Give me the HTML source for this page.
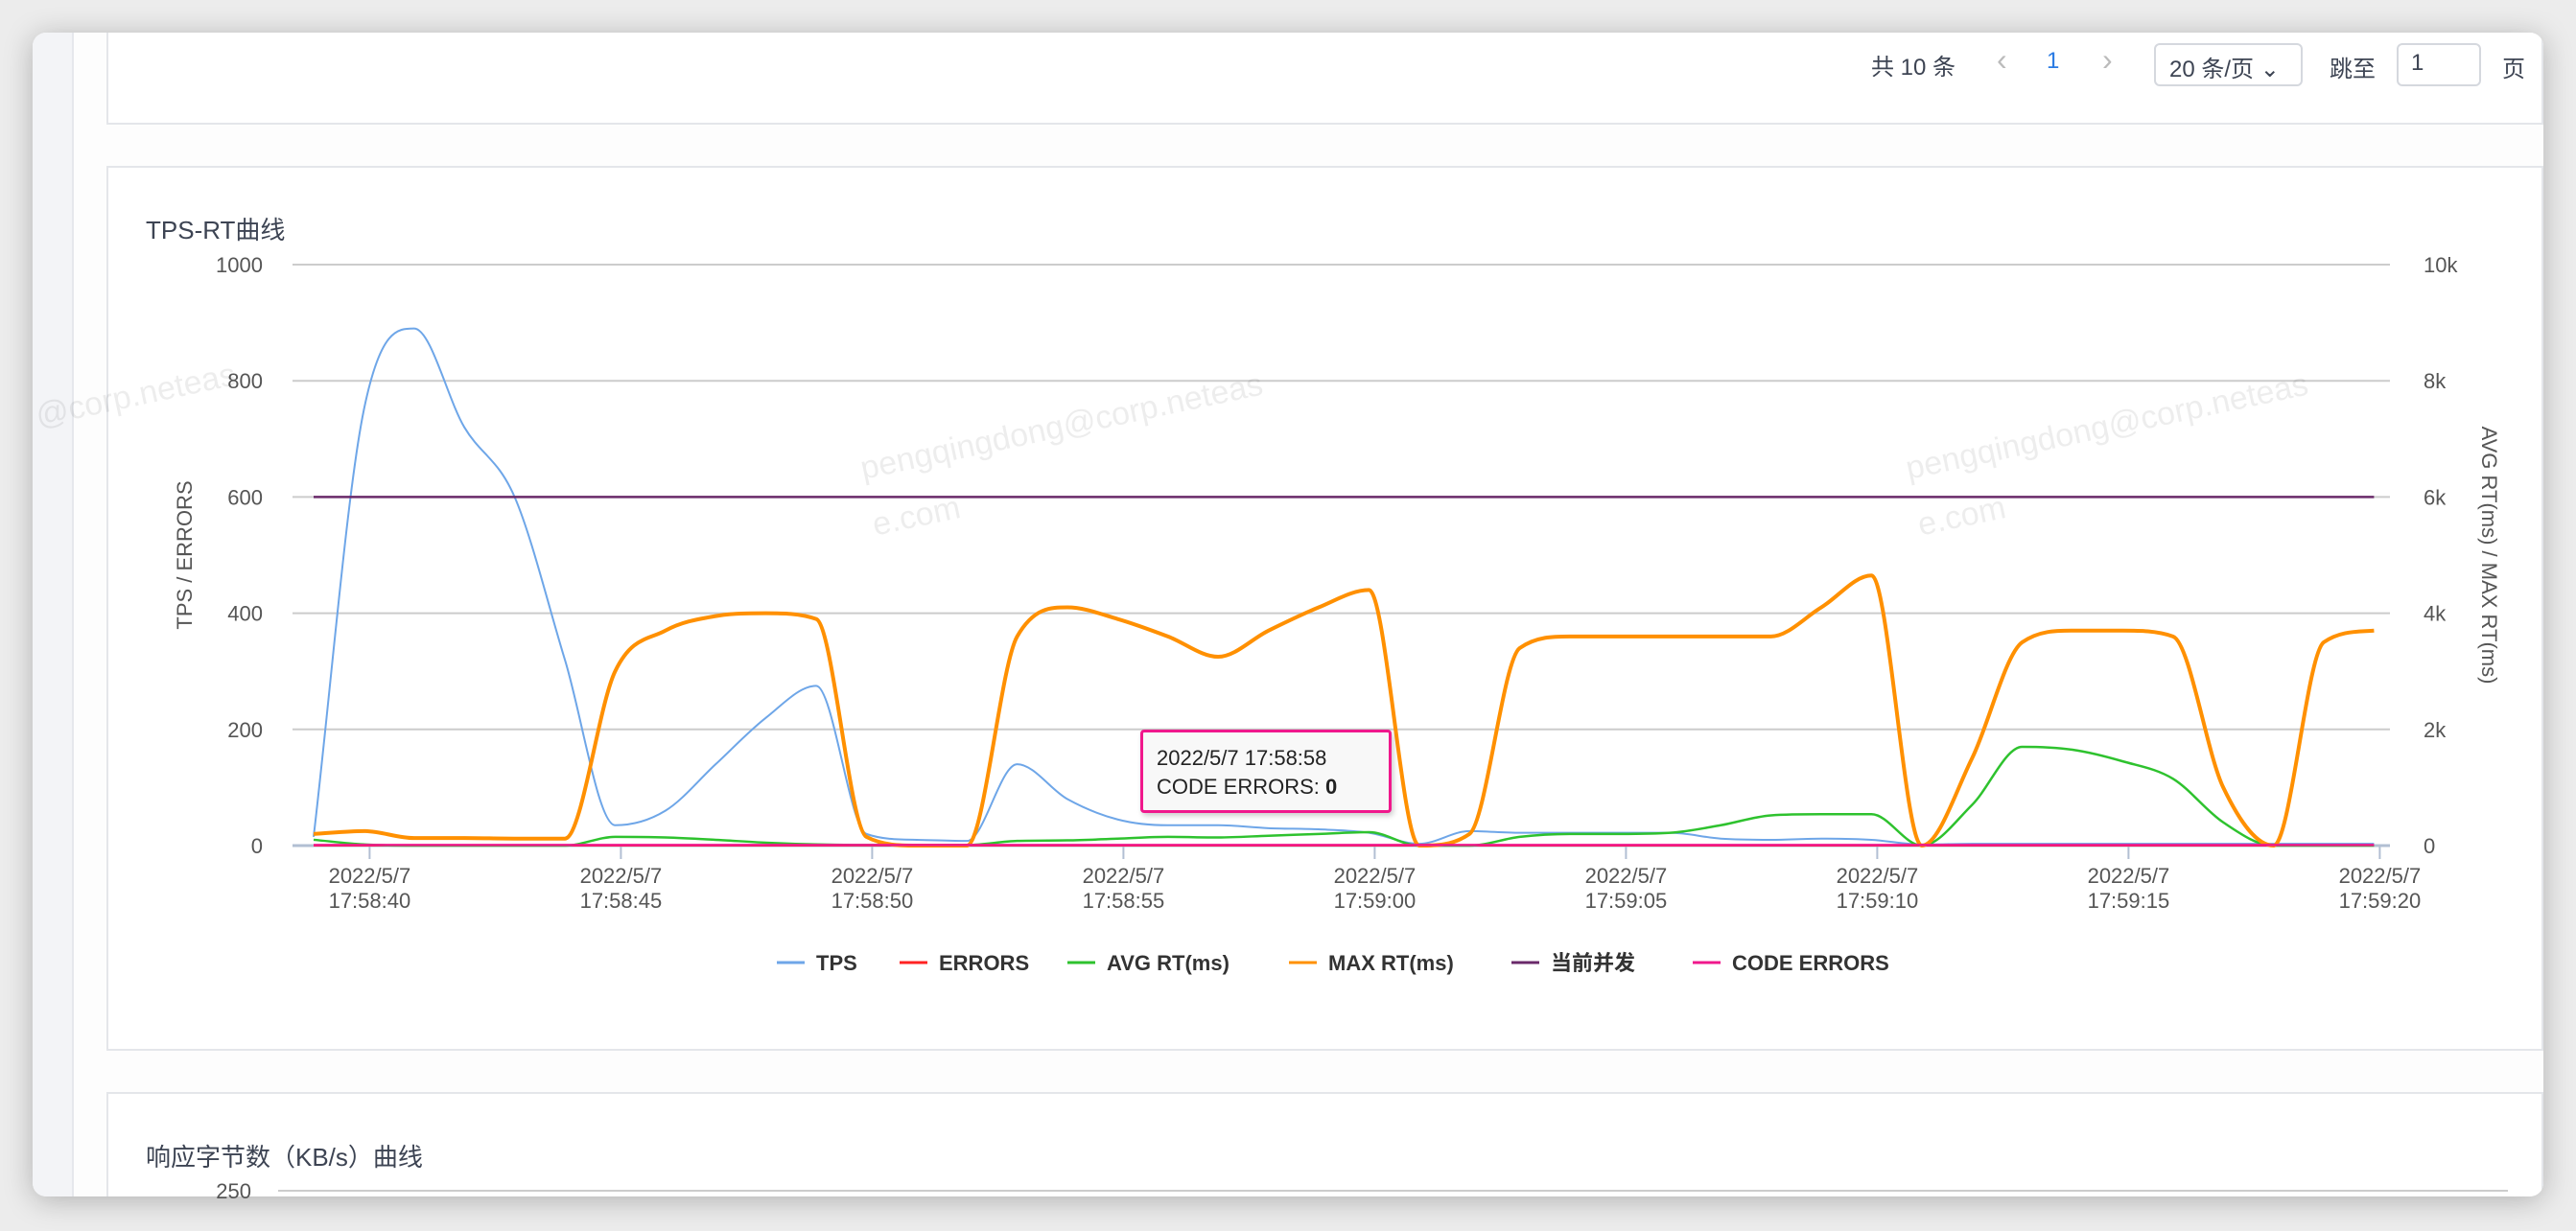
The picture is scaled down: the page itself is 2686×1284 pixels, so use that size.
<!DOCTYPE html>
<html><head><meta charset="utf-8"><style>
*{margin:0;padding:0;box-sizing:border-box}
body{width:2686px;height:1284px;background:#ececec;position:relative;overflow:hidden;font-family:"Liberation Sans","Noto Sans CJK SC",sans-serif}
#win{position:absolute;left:34px;top:34px;width:2618px;height:1214px;background:#fdfdfd;border-radius:14px;overflow:hidden;box-shadow:0 4px 30px rgba(0,0,0,.25)}
#side{position:absolute;left:0;top:0;width:43px;height:100%;background:#f3f4f7;border-right:2px solid #e6e8ec}
.card{position:absolute;left:77px;width:2541px;background:#fff;border:2px solid #e4e6ea}
.t{position:absolute;color:#3d4453;font-size:24px;white-space:nowrap}
.box{position:absolute;border:2px solid #d5d8de;border-radius:6px;background:#fff}
svg{position:absolute;left:0;top:0}
</style></head><body>
<div id="win">
<div id="side"></div>
<div class="card" style="top:-4px;height:100px"></div>
<div class="card" style="top:139px;height:923px"></div>
<div class="card" style="top:1105px;height:200px"></div>
</div>
<div class="t" style="left:1951px;top:50px">共 10 条</div>
<div class="t" style="left:2082px;top:44px;color:#bbb;font-size:32px">‹</div>
<div class="t" style="left:2134px;top:50px;color:#2a7be4">1</div>
<div class="t" style="left:2192px;top:44px;color:#bbb;font-size:32px">›</div>
<div class="box" style="left:2246px;top:45px;width:155px;height:45px"></div>
<div class="t" style="left:2262px;top:52px">20 条/页 ⌄</div>
<div class="t" style="left:2429px;top:52px">跳至</div>
<div class="box" style="left:2499px;top:45px;width:88px;height:45px"></div>
<div class="t" style="left:2514px;top:52px">1</div>
<div class="t" style="left:2609px;top:52px">页</div>
<div class="t" style="left:152px;top:220px;font-size:26px">TPS-RT曲线</div>
<div class="t" style="left:152px;top:1187px;font-size:26px">响应字节数（KB/s）曲线</div>
<svg id="c" width="2686" height="1284"></svg>
<div style="position:absolute;left:1189px;top:761px;width:262px;height:87px;background:#f8f8f8;border:3px solid #f0188c;border-radius:4px;box-shadow:2px 3px 6px rgba(0,0,0,.2);padding:12px 0 0 14px;font-size:22px;color:#222;line-height:30px">2022/5/7 17:58:58<br>CODE ERRORS: <b>0</b></div>
<script>
const tps=[15,750,890,720,600,320,35,60,140,220,275,20,10,8,140,80,45,35,35,30,28,22,3,25,22,22,22,22,12,10,12,10,2,3,3,3,3,3,3,3,3,3];
const avgRt=[100,20,0,0,0,0,150,140,100,50,20,10,10,10,80,90,120,150,140,170,200,230,0,0,150,200,200,220,350,520,540,540,0,700,1700,1650,1450,1150,400,0,0,0];
const maxRt=[200,250,130,130,120,120,3000,3700,3950,4000,3900,150,0,0,3600,4100,3900,3600,3250,3700,4100,4400,0,200,3400,3600,3600,3600,3600,3600,4100,4650,0,1500,3500,3700,3700,3600,1000,0,3500,3700];
const conc=Array(42).fill(600);
const errs=Array(42).fill(0);
const codeErrs=Array(42).fill(1);
const leftTicks=[0,200,400,600,800,1000];
const rightTicks=["0","2k","4k","6k","8k","10k"];
const xLabels=["17:58:40","17:58:45","17:58:50","17:58:55","17:59:00","17:59:05","17:59:10","17:59:15","17:59:20"];
const NS="http://www.w3.org/2000/svg",svg=document.getElementById('c');
const X=i=>327+52.4*i, YL=v=>882-v*0.606, YR=v=>882-v*0.0606;
function mk(t,a,p){const e=document.createElementNS(NS,t);for(const k in a)e.setAttribute(k,a[k]);(p||svg).appendChild(e);return e}
leftTicks.forEach((v,k)=>{
 const g=mk('line',{x1:305,x2:2492,y1:YL(v),y2:YL(v),stroke:k?'#ccc':'#b2bfd3','stroke-width':k?2:3});
 
 
 const t=mk('text',{x:274,y:YL(v)+8,'text-anchor':'end','font-size':22,fill:'#555'});t.textContent=v;
 
 
 const r=mk('text',{x:2527,y:YL(v)+8,'font-size':22,fill:'#555'});r.textContent=rightTicks[k];
 
 
});
xLabels.forEach((s,k)=>{const x=X(1+5*k)+6;
 const l=mk('line',{x1:x,x2:x,y1:882,y2:896,stroke:'#b2bfd3','stroke-width':2});
 
 
 const t=mk('text',{x:x,y:921,'text-anchor':'middle','font-size':22,fill:'#555'});
 
 
 mk('tspan',{x:x},t).textContent='2022/5/7';mk('tspan',{x:x,dy:26},t).textContent=s;});
let a=mk('text',{transform:'translate(200,579) rotate(-90)','text-anchor':'middle','font-size':22,fill:'#555'});a.textContent='TPS / ERRORS';


a=mk('text',{transform:'translate(2588,579) rotate(90)','text-anchor':'middle','font-size':22,fill:'#555'});a.textContent='AVG RT(ms) / MAX RT(ms)';


function path(arr,Y){const p=arr.map((v,i)=>[X(i),Y(v)]),n=p.length,m=[];
 const d=[];for(let i=0;i<n-1;i++)d.push((p[i+1][1]-p[i][1])/(p[i+1][0]-p[i][0]));
 for(let i=0;i<n;i++){if(i==0)m.push(d[0]);else if(i==n-1)m.push(d[n-2]);else m.push(d[i-1]*d[i]<=0?0:(d[i-1]+d[i])/2);}
 for(let i=0;i<n-1;i++){if(d[i]==0){m[i]=0;m[i+1]=0;continue}const a=m[i]/d[i],b=m[i+1]/d[i],s=a*a+b*b;if(s>9){const t=3/Math.sqrt(s);m[i]=t*a*d[i];m[i+1]=t*b*d[i];}}
 let s=`M${p[0][0]},${p[0][1]}`;for(let i=0;i<n-1;i++){const h=(p[i+1][0]-p[i][0])/3;s+=`C${p[i][0]+h},${p[i][1]+m[i]*h} ${p[i+1][0]-h},${p[i+1][1]-m[i+1]*h} ${p[i+1][0]},${p[i+1][1]}`}return s}
const series=[["tps",tps,YL,'#6ea6e8',2],["errors",errs,YL,'#f22',2],["avg-rt",avgRt,YR,'#2ec22e',2.5],["max-rt",maxRt,YR,'#ff9000',4],["concurrency",conc,YL,'#6a2a6a',2.5],["code-errors",codeErrs,YL,'#f0188c',2.5]];
series.forEach(s=>{const e=mk('path',{d:path(s[1],s[2]),fill:'none',stroke:s[3],'stroke-width':s[4]});
 
 });
const leg=[["TPS",810,'#6ea6e8'],["ERRORS",938,'#f22'],["AVG RT(ms)",1113,'#2ec22e'],["MAX RT(ms)",1344,'#ff9000'],["当前并发",1576,'#6a2a6a'],["CODE ERRORS",1765,'#f0188c']];
leg.forEach(l=>{const ln=mk('line',{x1:l[1],x2:l[1]+29,y1:1004,y2:1004,stroke:l[2],'stroke-width':3});
 
 
 const t=mk('text',{x:l[1]+41,y:1012,'font-size':22,'font-weight':'bold',fill:'#333'});t.textContent=l[0];
 
 });
const bl=mk('line',{x1:290,x2:2615,y1:1242,y2:1242,stroke:'#ccc','stroke-width':2});


const bt=mk('text',{x:262,y:1250,'text-anchor':'end','font-size':22,fill:'#555'});bt.textContent='250';


[[900,500],[1990,500],[40,445]].forEach((w,k)=>{const t=mk('text',{transform:`translate(${w[0]},${w[1]}) rotate(-12)`,'font-size':34,fill:'rgba(0,0,0,0.07)'});
 
 
 if(k==2){t.textContent='@corp.neteas';}else{mk('tspan',{x:0},t).textContent='pengqingdong@corp.neteas';mk('tspan',{x:0,dy:60},t).textContent='e.com';}});
</script>
</body></html>
